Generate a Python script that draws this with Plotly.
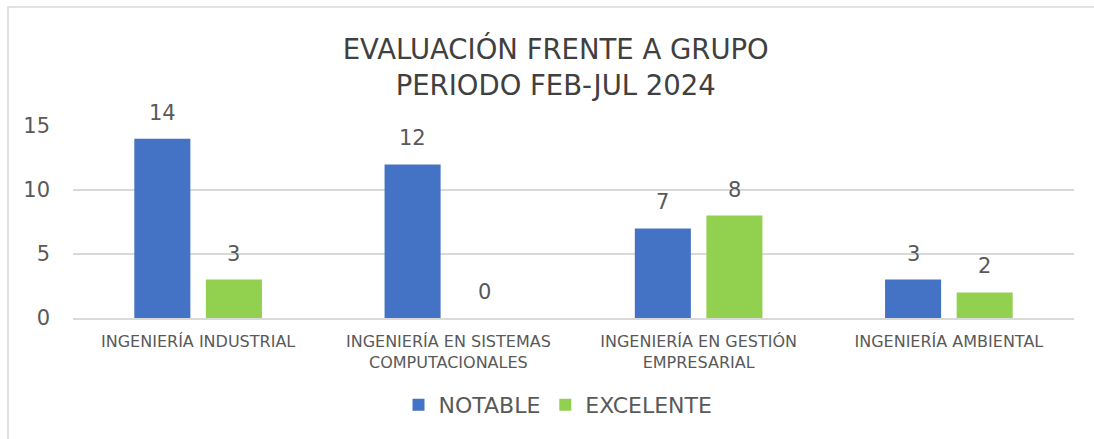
import plotly.graph_objects as go

categories = ["INGENIERÍA INDUSTRIAL", "INGENIERÍA EN SISTEMAS<br>COMPUTACIONALES",
              "INGENIERÍA EN GESTIÓN<br>EMPRESARIAL", "INGENIERÍA AMBIENTAL"]
notable = [14, 12, 7, 3]
excelente = [3, 0, 8, 2]
series_names = ["NOTABLE", "EXCELENTE"]
colors = ["#4472C4", "#92D050"]
y_ticks = [0, 5, 10, 15]

W, H = 1094, 439
ML, MR, MT, MB = 73, 20, 126, 121
PW = W - ML - MR
PH = H - MT - MB
FONT = "DejaVu Sans"
TXT = "#595959"

fig = go.Figure()
for name, vals, col in zip(series_names, [notable, excelente], colors):
    fig.add_trace(go.Bar(x=categories, y=vals, name=name, marker_color=col,
                         marker_line_width=0))

bargap = 0.428
slot = PW / len(categories) * (1 - bargap) / 2
annotations = []
for i, vals in enumerate([notable, excelente]):
    for c, v in zip(categories, vals):
        annotations.append(dict(x=c, y=v, xref="x", yref="y", text=str(v), showarrow=False,
                                xshift=(i - 0.5) * slot, yshift=12, yanchor="bottom",
                                font=dict(family=FONT, size=21, color=TXT)))

def px_x(p):
    return (p - ML) / PW

def px_y(p):
    return (H - MB - p) / PH

fig.add_shape(type="rect", xref="paper", yref="paper",
              x0=px_x(8), x1=px_x(1110), y0=px_y(7), y1=px_y(460),
              line=dict(color="#d9d9d9", width=1.5), fillcolor="rgba(0,0,0,0)")

fig.update_layout(
    width=W, height=H,
    margin=dict(l=ML, r=MR, t=MT, b=MB),
    paper_bgcolor="white", plot_bgcolor="white",
    barmode="group", bargap=bargap, bargroupgap=0.217,
    title=dict(text="EVALUACIÓN FRENTE A GRUPO<br>PERIODO FEB-JUL 2024",
               x=0.508, xanchor="center", y=1 - 59 / H, yanchor="middle",
               font=dict(family=FONT, size=27.5, color="#404040")),
    font=dict(family=FONT, color=TXT),
    showlegend=True,
    legend=dict(orientation="h", x=px_x(558), xanchor="center", y=px_y(405), yanchor="middle",
                font=dict(family=FONT, size=22, color=TXT)),
    annotations=annotations,
)
fig.update_xaxes(showgrid=False, showline=True, linecolor="#d9d9d9", linewidth=1.5,
                 tickfont=dict(family=FONT, size=16, color=TXT), ticklabelstandoff=8)
fig.update_yaxes(range=[0, 15], tickvals=y_ticks, showgrid=True, gridcolor="#d9d9d9",
                 gridwidth=1.5, zeroline=False, showline=False,
                 tickfont=dict(family=FONT, size=21, color=TXT), ticklabelstandoff=22)

fig.write_html("out.html", config={"displayModeBar": False},
               post_script="document.body.style.margin='0';")
